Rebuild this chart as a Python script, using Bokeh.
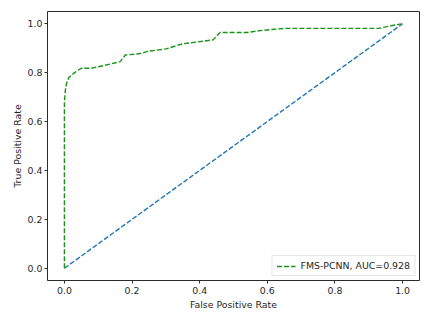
from bokeh.plotting import figure
from bokeh.models import FixedTicker, Range1d, Legend, LegendItem
from bokeh.embed import file_html
from bokeh.resources import INLINE

# ROC curve of FMS-PCNN
fpr = [0.0, 0.0, 0.0, 0.003, 0.006, 0.013, 0.03, 0.05, 0.08, 0.12, 0.165, 0.18,
       0.22, 0.25, 0.30, 0.35, 0.44, 0.46, 0.54, 0.58, 0.65, 0.93, 0.97, 1.0]
tpr = [0.0, 0.60, 0.68, 0.73, 0.755, 0.78, 0.80, 0.818, 0.818, 0.83, 0.845, 0.872,
       0.877, 0.888, 0.897, 0.918, 0.934, 0.964, 0.964, 0.972, 0.981, 0.981, 0.993, 1.0]
chance_x = [0.0, 1.0]
chance_y = [0.0, 1.0]
ticks = [0.0, 0.2, 0.4, 0.6, 0.8, 1.0]
tick_labels = ["0.0", "0.2", "0.4", "0.6", "0.8", "1.0"]
legend_text = "FMS-PCNN, AUC=0.928"
x_title = "False Positive Rate"
y_title = "True Positive Rate"

FONT = "DejaVu Sans"
FS = "9.4px"
TXT = "#262626"

p = figure(frame_width=372, frame_height=269, output_backend="svg",
           toolbar_location=None, min_border_left=47, min_border_right=6,
           min_border_top=11, min_border_bottom=34,
           x_range=Range1d(-0.05, 1.05), y_range=Range1d(-0.05, 1.05))
p.background_fill_color = "white"
p.border_fill_color = "white"
p.outline_line_color = "#2b2b2b"
p.outline_line_width = 1
p.grid.visible = False

p.line(chance_x, chance_y, line_color="#1f77b4", line_width=1.4, line_dash="5 2")
g = p.line(fpr, tpr, line_color="#1a931a", line_width=1.4, line_dash="5 2")

for ax, title in ((p.xaxis[0], x_title), (p.yaxis[0], y_title)):
    ax.ticker = FixedTicker(ticks=ticks)
    ax.major_label_overrides = {t: l for t, l in zip(ticks, tick_labels)}
    ax.minor_tick_line_color = None
    ax.major_tick_in = 0
    ax.major_tick_out = 3
    ax.major_tick_line_color = "#333333"
    ax.axis_line_color = None
    ax.major_label_text_font = FONT
    ax.major_label_text_font_size = FS
    ax.major_label_text_color = TXT
    ax.axis_label = title
    ax.axis_label_text_font = FONT
    ax.axis_label_text_font_size = FS
    ax.axis_label_text_font_style = "normal"
    ax.axis_label_text_color = TXT
    ax.major_label_standoff = 3
    ax.axis_label_standoff = 2
p.yaxis[0].major_label_standoff = 2
p.yaxis[0].axis_label_standoff = 2

legend = Legend(items=[LegendItem(label=legend_text, renderers=[g])],
                location="bottom_right")
legend.label_text_font = FONT
legend.label_text_font_size = FS
legend.label_text_color = TXT
legend.border_line_color = "#d0d0d0"
legend.border_line_width = 1
legend.background_fill_color = "white"
legend.background_fill_alpha = 0.9
legend.padding = 4
legend.margin = 4
legend.spacing = 0
legend.glyph_width = 19
legend.glyph_height = 10
legend.label_height = 10
legend.label_standoff = 5
p.add_layout(legend)

open("out.html", "w").write(file_html(p, INLINE))
